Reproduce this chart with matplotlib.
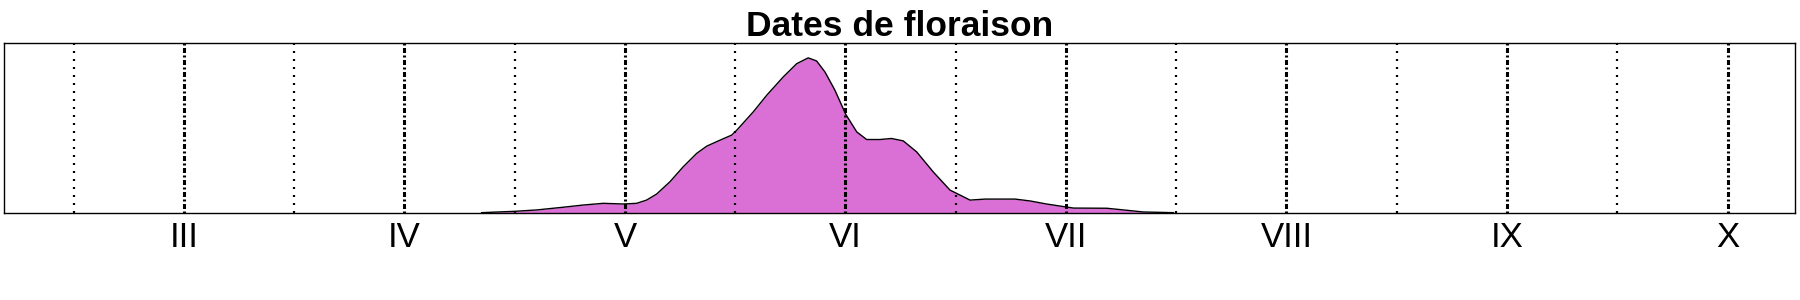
import numpy as np
import matplotlib.pyplot as plt

plt.rcParams['font.family'] = ['Liberation Sans', 'DejaVu Sans']
plt.rcParams['lines.scale_dashes'] = False

# flowering dates, x in months (3 = March ...), y = relative density
month = [4.350, 4.501, 4.600, 4.720, 4.811, 4.902, 4.992, 5.053, 5.098, 5.144,
         5.204, 5.264, 5.325, 5.371, 5.431, 5.484, 5.507, 5.582, 5.643, 5.718,
         5.779, 5.831, 5.869, 5.907, 5.952, 6.001, 6.051, 6.096, 6.156, 6.209,
         6.262, 6.323, 6.398, 6.474, 6.565, 6.633, 6.769, 6.837, 6.912, 6.988,
         7.034, 7.185, 7.261, 7.351, 7.487]
density = [0.002, 0.010, 0.018, 0.034, 0.047, 0.057, 0.053, 0.057, 0.076, 0.112,
           0.184, 0.272, 0.351, 0.394, 0.429, 0.459, 0.488, 0.596, 0.694, 0.802,
           0.880, 0.914, 0.896, 0.831, 0.724, 0.582, 0.478, 0.433, 0.433, 0.439,
           0.425, 0.360, 0.242, 0.135, 0.076, 0.082, 0.082, 0.071, 0.053, 0.038,
           0.029, 0.028, 0.018, 0.006, 0.002]

month_ticks = [3, 4, 5, 6, 7, 8, 9, 10]
month_labels = ['III', 'IV', 'V', 'VI', 'VII', 'VIII', 'IX', 'X']
mid_months = [2.5, 3.5, 4.5, 5.5, 6.5, 7.5, 8.5, 9.5]

fig = plt.figure(figsize=(18, 3), dpi=100)
ax = fig.add_axes([4 / 1800, 0.29, (1795 - 4) / 1800, 0.5657])

ax.fill_between(month, 0, density, color='#DA70D6', lw=0)
ax.plot(month, density, color='black', lw=1.0)

for m in mid_months:
    ax.axvline(m, color='black', lw=1.6, linestyle=(0, (1.44, 4.32)))
for m in month_ticks:
    ax.axvline(m, color='black', lw=2.2, linestyle=(0, (1.44, 1.8, 3.6, 1.8)))

ax.set_xlim(2.184, 10.306)
ax.set_ylim(0, 1)
ax.set_yticks([])
ax.set_xticks(month_ticks)
ax.set_xticklabels(month_labels, fontsize=25)
ax.tick_params(axis='x', length=0, pad=6)
for s in ax.spines.values():
    s.set_linewidth(1.0)

ax.set_title('Dates de floraison', fontsize=25.5, fontweight='bold', pad=5.5)

fig.savefig('out.png', dpi=100)
